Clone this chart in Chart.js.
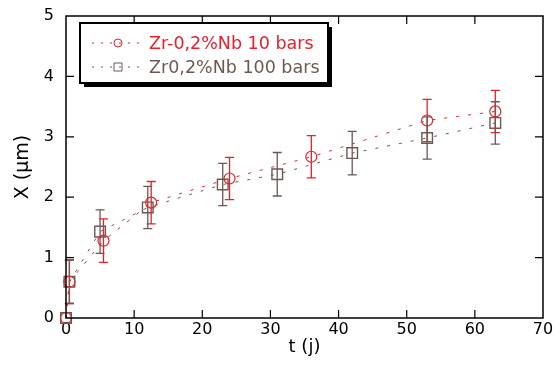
<!DOCTYPE html>
<html>
<head>
<meta charset="utf-8">
<script src="https://cdn.jsdelivr.net/npm/chart.js@4/dist/chart.umd.min.js"></script>
<style>
  html, body { margin: 0; padding: 0; background: #fff; }
</style>
</head>
<body>
<canvas id="myChart" width="555" height="376"></canvas>
<script>
// Zr-0,2%Nb 10 bars (red circles)
const redT = [0, 0.5, 5.5, 12.5, 24, 36, 53, 63]
const redX = [0, 0.6, 1.28, 1.91, 2.31, 2.67, 3.27, 3.42]
const redErr = [0, 0.36, 0.36, 0.35, 0.35, 0.35, 0.35, 0.35]

// Zr0,2%Nb 100 bars (grey squares)
const greyT = [0, 0.5, 5, 12, 23, 31, 42, 53, 63]
const greyX = [0, 0.6, 1.43, 1.83, 2.21, 2.38, 2.73, 2.98, 3.23]
const greyErr = [0, 0.36, 0.36, 0.35, 0.35, 0.36, 0.36, 0.35, 0.35]

const labels = ['Zr-0,2%Nb 10 bars', 'Zr0,2%Nb 100 bars']
const xTicks = [0, 10, 20, 30, 40, 50, 60, 70]
const yTicks = [0, 1, 2, 3, 4, 5]

const RED = '#e8202a'
const GREY = '#6e5853'
const FONT = '"DejaVu Sans", sans-serif'

function toPoints(t, v, e) {
  return t.map((x, i) => ({ x: x, y: v[i], err: e[i] }))
}

const errorBars = {
  id: 'errorBars',
  beforeDatasetsDraw(chart) {
    const ctx = chart.ctx
    const xs = chart.scales.x, ys = chart.scales.y
    chart.data.datasets.forEach(ds => {
      ctx.save()
      ctx.strokeStyle = ds.borderColor
      ctx.lineWidth = 1.3
      ds.data.forEach(p => {
        if (!p.err) return
        const px = xs.getPixelForValue(p.x)
        const top = ys.getPixelForValue(p.y + p.err)
        const bot = ys.getPixelForValue(p.y - p.err)
        ctx.beginPath()
        ctx.moveTo(px, top); ctx.lineTo(px, bot)
        ctx.moveTo(px - 4.5, top); ctx.lineTo(px + 4.5, top)
        ctx.moveTo(px - 4.5, bot); ctx.lineTo(px + 4.5, bot)
        ctx.stroke()
      })
      ctx.restore()
    })
  }
}

const frame = {
  id: 'frame',
  afterDraw(chart) {
    const ctx = chart.ctx
    const a = chart.chartArea
    const xs = chart.scales.x, ys = chart.scales.y
    ctx.save()
    ctx.strokeStyle = '#000'
    ctx.lineWidth = 1.5
    ctx.strokeRect(a.left, a.top, a.right - a.left, a.bottom - a.top)
    ctx.lineWidth = 1.2
    ctx.beginPath()
    xTicks.slice(1, -1).forEach(v => {
      const px = xs.getPixelForValue(v)
      ctx.moveTo(px, a.bottom); ctx.lineTo(px, a.bottom - 8)
      ctx.moveTo(px, a.top); ctx.lineTo(px, a.top + 8)
    })
    yTicks.slice(1, -1).forEach(v => {
      const py = ys.getPixelForValue(v)
      ctx.moveTo(a.left, py); ctx.lineTo(a.left + 8, py)
      ctx.moveTo(a.right, py); ctx.lineTo(a.right - 8, py)
    })
    ctx.stroke()

    // legend box with shadow
    const bx = 80, by = 23, bw = 248, bh = 60
    ctx.fillStyle = '#000'
    ctx.fillRect(bx + 4, by + 4, bw, bh)
    ctx.fillStyle = '#fff'
    ctx.fillRect(bx, by, bw, bh)
    ctx.lineWidth = 2
    ctx.strokeRect(bx, by, bw, bh)

    const rows = [
      { y: by + 20, color: RED, style: 'circle', text: labels[0] },
      { y: by + 44, color: GREY, style: 'rect', text: labels[1] }
    ]
    rows.forEach(r => {
      ctx.strokeStyle = r.color
      ctx.lineWidth = 1
      ctx.setLineDash([2, 7])
      ctx.beginPath()
      ctx.moveTo(92, r.y); ctx.lineTo(142, r.y)
      ctx.stroke()
      ctx.setLineDash([])
      ctx.beginPath()
      if (r.style === 'circle') ctx.arc(118, r.y, 4, 0, Math.PI * 2)
      else ctx.rect(114, r.y - 4, 8, 8)
      ctx.stroke()
      ctx.fillStyle = r.color
      ctx.font = '17.5px ' + FONT
      ctx.textBaseline = 'middle'
      ctx.fillText(r.text, 149, r.y + 1)
    })
    ctx.restore()
  }
}

const ctx = document.getElementById('myChart')

new Chart(ctx, {
  type: 'scatter',
  data: {
    datasets: [{
      label: labels[0],
      data: toPoints(redT, redX, redErr),
      showLine: true,
      borderColor: RED,
      backgroundColor: 'rgba(0,0,0,0)',
      borderWidth: 1,
      borderDash: [3, 9],
      pointStyle: 'circle',
      pointRadius: 5.5,
      pointBorderWidth: 1.2,
      clip: false
    }, {
      label: labels[1],
      data: toPoints(greyT, greyX, greyErr),
      showLine: true,
      borderColor: GREY,
      backgroundColor: 'rgba(0,0,0,0)',
      borderWidth: 1,
      borderDash: [3, 9],
      pointStyle: 'rect',
      pointRadius: 7.5,
      pointBorderWidth: 1.4,
      clip: false
    }]
  },
  options: {
    responsive: false,
    animation: false,
    layout: { padding: { top: 16, right: 12, left: 0, bottom: 0 } },
    plugins: { legend: { display: false }, tooltip: { enabled: false } },
    scales: {
      x: {
        type: 'linear',
        min: 0, max: 70,
        afterBuildTicks: s => { s.ticks = xTicks.map(v => ({ value: v })) },
        afterFit: s => { s.height = 58; s.paddingLeft = 0; s.paddingRight = 0 },
        grid: { display: false, drawTicks: false },
        border: { display: false },
        ticks: { color: '#000', padding: 2, font: { family: FONT, size: 16 } },
        title: { display: true, text: 't (j)', color: '#000', padding: { top: 0, bottom: 18 }, font: { family: FONT, size: 18 } }
      },
      y: {
        min: 0, max: 5,
        afterBuildTicks: s => { s.ticks = yTicks.map(v => ({ value: v })) },
        afterFit: s => { s.width = 66; s.paddingTop = 0; s.paddingBottom = 0 },
        grid: { display: false, drawTicks: false },
        border: { display: false },
        ticks: { color: '#000', padding: 12, font: { family: FONT, size: 16 } },
        title: { display: true, text: 'X (µm)', color: '#000', padding: { top: 12, bottom: 0 }, font: { family: FONT, size: 19 } }
      }
    }
  },
  plugins: [errorBars, frame]
})
</script>
</body>
</html>
